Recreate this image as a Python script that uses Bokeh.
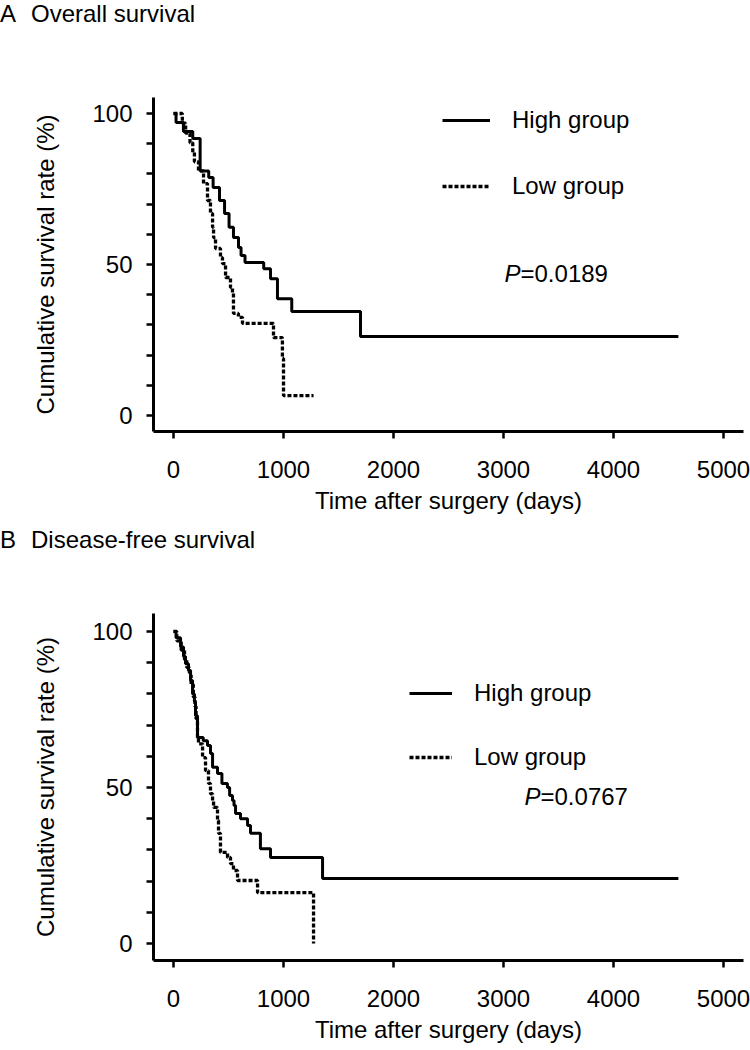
from bokeh.plotting import figure
from bokeh.models import Range1d, FixedTicker, Label, Legend, LegendItem, Div
from bokeh.layouts import column
from bokeh.embed import file_html
from bokeh.resources import INLINE

FONT = "Liberation Sans"

# ---------------- data ----------------
# Panel A: overall survival (Kaplan-Meier steps)
os_high_days = [0, 23, 90, 175, 242, 320, 360, 418, 464, 505, 545, 591, 614, 650, 820, 882, 945, 1075, 1700, 4590]
os_high_surv = [100, 97.0, 94.0, 91.7, 81.0, 78.8, 75.5, 71.2, 66.9, 62.3, 58.9, 55.6, 53.0, 50.7, 48.6, 45.3, 38.7, 34.4, 26.2, 26.2]
os_low_days = [0, 80, 110, 150, 175, 190, 227, 273, 309, 336, 355, 364, 382, 427, 445, 473, 518, 536, 545, 590, 627, 909, 990, 1000, 1273]
os_low_surv = [100, 96.8, 93.5, 90.3, 87.1, 84.0, 81.0, 76.8, 71.2, 66.9, 62.3, 58.9, 55.3, 52.3, 50.3, 45.7, 42.4, 40.4, 33.8, 32.5, 30.5, 25.8, 18.9, 6.6, 6.6]

# Panel B: disease-free survival
dfs_high_days = [0, 23, 64, 91, 109, 136, 155, 173, 190, 200, 218, 270, 309, 336, 355, 400, 440, 490, 510, 536, 550, 564, 609, 673, 700, 790, 882, 1355, 4590]
dfs_high_surv = [100, 98.0, 95.0, 92.0, 89.7, 87.5, 84.3, 80.0, 77.5, 73.0, 66.0, 65.0, 63.5, 60.9, 56.5, 54.5, 51.3, 50.0, 47.4, 45.8, 44.2, 41.7, 40.0, 37.8, 35.3, 30.4, 27.6, 20.8, 20.8]
dfs_low_days = [0, 30, 70, 100, 120, 145, 160, 180, 195, 205, 218, 227, 264, 291, 318, 336, 355, 364, 400, 409, 427, 491, 518, 545, 582, 764, 1273]
dfs_low_surv = [100, 97.0, 94.0, 91.0, 88.5, 86.0, 83.0, 79.0, 76.0, 72.0, 66.0, 64.0, 59.6, 55.4, 51.3, 48.0, 45.8, 43.6, 39.4, 35.3, 29.2, 27.6, 25.6, 23.4, 20.2, 16.3, 0.0]

x_ticks = [0, 1000, 2000, 3000, 4000, 5000]
y_ticks = [0, 50, 100]
y_minor_ticks = [10, 20, 30, 40, 60, 70, 80, 90]

series_labels = ["High group", "Low group"]
panel_letters = ["A", "B"]
panel_names = ["Overall survival", "Disease-free survival"]
p_values = ["=0.0189", "=0.0767"]
x_title = "Time after surgery (days)"
y_title = "Cumulative survival rate (%)"


def title_strip(letter, name, height, pad_top):
    html = ("<div style=\"font-family:'%s';font-size:24px;line-height:28px;color:#000;"
            "margin:%dpx 0 0 0;padding:0;white-space:nowrap\">%s"
            "<span style=\"margin-left:15px\">%s</span></div>") % (FONT, pad_top, letter, name)
    return Div(text=html, width=750, height=height, margin=0)


def panel(hi_d, hi_s, lo_d, lo_s, pval, page_top, fig_h,
          fr_top, fr_bot, y0_px, y100_px, leg_x, leg_rows, glyph_w, p_xy):
    fr_left, fr_right = 153, 743
    x_lo, x_hi = -182.0, 5182.0
    ppu = (y0_px - y100_px) / 100.0
    y_lo = (y0_px - fr_bot) / ppu
    y_hi = (y0_px - fr_top) / ppu

    def dx(px):
        return x_lo + (px - fr_left) / (fr_right - fr_left) * (x_hi - x_lo)

    def dy(py):
        return (y0_px - py) / ppu

    p = figure(frame_width=fr_right - fr_left, frame_height=fr_bot - fr_top,
               min_border_left=fr_left, min_border_right=750 - fr_right,
               min_border_top=fr_top - page_top,
               min_border_bottom=page_top + fig_h - fr_bot,
               x_range=Range1d(x_lo, x_hi), y_range=Range1d(y_lo, y_hi),
               output_backend="svg", toolbar_location=None, tools="")
    p.outline_line_color = None
    p.xgrid.visible = False
    p.ygrid.visible = False
    p.background_fill_color = "white"
    p.border_fill_color = "white"

    for ax in (p.xaxis[0], p.yaxis[0]):
        ax.axis_line_width = 3
        ax.axis_line_color = "black"
        ax.major_tick_line_width = 2.5
        ax.minor_tick_line_width = 2.5
        ax.major_tick_line_color = "black"
        ax.minor_tick_line_color = "black"
        ax.major_tick_in = 0
        ax.minor_tick_in = 0
        ax.major_tick_out = 7
        ax.minor_tick_out = 7
        ax.major_label_text_font = FONT
        ax.major_label_text_font_size = "24px"
        ax.major_label_text_color = "black"
        ax.axis_label_text_font = FONT
        ax.axis_label_text_font_size = "24px"
        ax.axis_label_text_font_style = "normal"
        ax.axis_label_text_color = "black"

    p.xaxis[0].ticker = FixedTicker(ticks=x_ticks)
    p.xaxis[0].minor_tick_line_color = None
    p.xaxis[0].major_label_standoff = 22
    p.xaxis[0].axis_label = x_title
    p.xaxis[0].axis_label_standoff = 6

    p.yaxis[0].ticker = FixedTicker(ticks=y_ticks, minor_ticks=y_minor_ticks)
    p.yaxis[0].major_label_standoff = 14
    p.yaxis[0].major_label_orientation = "horizontal"
    p.yaxis[0].axis_label = y_title
    p.yaxis[0].axis_label_standoff = 30

    r_hi = p.step(hi_d, hi_s, mode="after", line_color="black", line_width=3)
    r_lo = p.step(lo_d, lo_s, mode="after", line_color="black", line_width=3.3,
                  line_dash="4 2")

    row_h = 28
    top_c, bot_c = leg_rows
    legend = Legend(items=[LegendItem(label=series_labels[0], renderers=[r_hi]),
                           LegendItem(label=series_labels[1], renderers=[r_lo])],
                    location=(leg_x - fr_left, fr_bot - (bot_c + row_h / 2)),
                    orientation="vertical", padding=0, margin=0,
                    spacing=int(bot_c - top_c - row_h),
                    glyph_width=glyph_w, glyph_height=row_h, label_height=row_h,
                    label_standoff=22, label_text_font=FONT,
                    label_text_font_size="24px", label_text_color="black",
                    border_line_color=None, background_fill_alpha=0)
    p.add_layout(legend)

    px, py = p_xy
    p.add_layout(Label(x=dx(px), y=dy(py), text="P", text_font=FONT,
                       text_font_style="italic", text_font_size="24px",
                       text_baseline="middle", text_align="left", text_color="black"))
    p.add_layout(Label(x=dx(px + 16), y=dy(py), text=pval, text_font=FONT,
                       text_font_size="24px", text_baseline="middle",
                       text_align="left", text_color="black"))
    return p


ta = title_strip(panel_letters[0], panel_names[0], height=28, pad_top=0)
pa = panel(os_high_days, os_high_surv, os_low_days, os_low_surv,
           p_values[0], page_top=28, fig_h=492, fr_top=97, fr_bot=431, y0_px=415, y100_px=113,
           leg_x=442, leg_rows=(120, 186), glyph_w=48, p_xy=(504, 273))
tb = title_strip(panel_letters[1], panel_names[1], height=40, pad_top=6)
pb = panel(dfs_high_days, dfs_high_surv, dfs_low_days, dfs_low_surv,
           p_values[1], page_top=560, fig_h=490, fr_top=613, fr_bot=960, y0_px=943, y100_px=631,
           leg_x=409, leg_rows=(693, 757), glyph_w=43, p_xy=(524, 796))

layout = column(ta, pa, tb, pb, spacing=0)
open("out.html", "w").write(file_html(layout, INLINE))
